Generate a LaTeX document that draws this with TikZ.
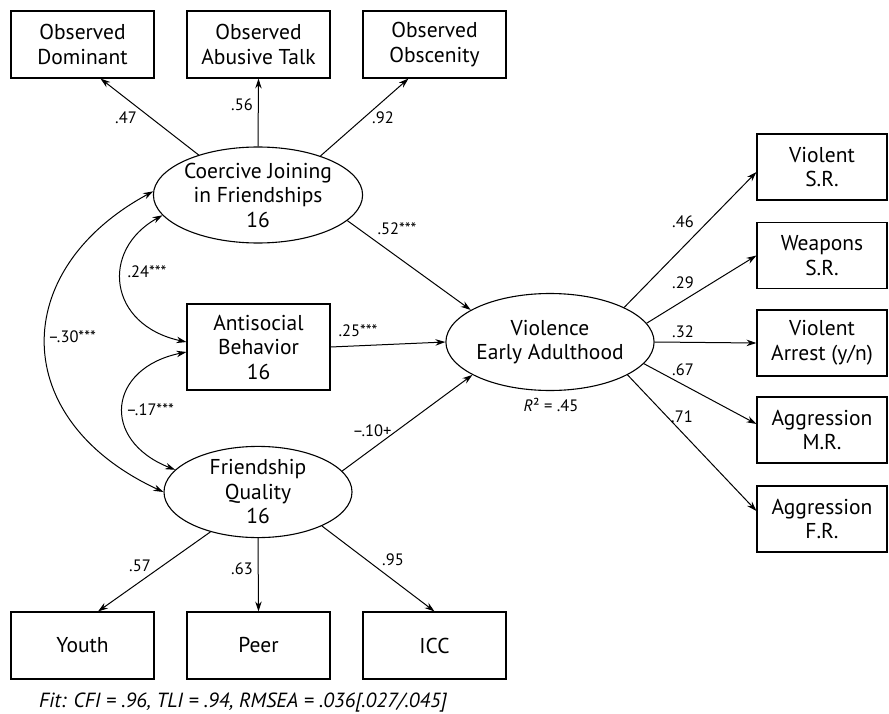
\documentclass[tikz,border=0pt]{standalone}
\usepackage{fontspec}
\setmainfont{PT Sans}
\usetikzlibrary{arrows.meta,calc,shapes.geometric}
\begin{document}
\begin{tikzpicture}[x=1pt,y=-1pt,
  every node/.style={font=\fontsize{21.5}{24.5}\selectfont, align=center, inner sep=0pt},
  obsbox/.style={draw, line width=1.1pt, minimum width=143pt, minimum height=67pt},
  rbox/.style={draw, line width=1.1pt, minimum width=130pt, minimum height=66pt},
  lat/.style={draw, ellipse, line width=1.1pt, minimum width=188pt, minimum height=94pt},
  arr/.style={line width=1pt, -{Stealth[length=10pt,width=6.5pt]}},
  darr/.style={line width=1pt, {Stealth[length=10pt,width=6.5pt]}-{Stealth[length=10pt,width=6.5pt]}},
  lbl/.style={font=\fontsize{16.5}{18}\selectfont}
]
\useasboundingbox (0,0) rectangle (889,714);
% top observed
\node[obsbox] (od) at (82.5,44.5) {Observed\\Dominant};
\node[obsbox] (oa) at (258.5,44.5) {Observed\\Abusive Talk};
\node[obsbox] (oo) at (434.5,44.5) {Observed\\Obscenity};
% latent
\node[lat, minimum height=96pt] (cj) at (258,195) {Coercive Joining\\in Friendships\\16};
\node[draw, line width=1.1pt, minimum width=143pt, minimum height=86pt] (asb) at (258.5,347) {Antisocial\\Behavior\\16};
\node[lat, minimum height=90pt] (fq) at (258,492) {Friendship\\Quality\\16};
\node[lat, minimum width=187pt, minimum height=97pt] (vea) at (550,342) {Violence\\Early Adulthood};
% bottom
\node[obsbox] (yo) at (82.5,645.5) {Youth};
\node[obsbox] (pe) at (258.5,645.5) {Peer};
\node[obsbox] (ic) at (434.5,645.5) {ICC};
% right
\node[rbox] (vsr) at (822,167) {Violent\\S.R.};
\node[rbox] (wsr) at (822,255.5) {Weapons\\S.R.};
\node[rbox] (var) at (822,343) {Violent\\Arrest (y/n)};
\node[rbox] (amr) at (822,430) {Aggression\\M.R.};
\node[rbox] (afr) at (822,519) {Aggression\\F.R.};
% arrows top
\draw[arr] (cj.146) -- ($(od.south)+(18,0)$);
\draw[arr] (cj.north) -- (oa.south);
\draw[arr] (cj.32) -- ($(oo.south)+(-26,0)$);
% structural
\draw[arr] (cj.-16) -- (vea.158);
\draw[arr] (asb.east) -- (vea.west);
\draw[arr] (fq.14) -- (vea.203);
% bottom
\draw[arr] (fq.220) -- ($(yo.north)+(15.5,0)$);
\draw[arr] (fq.south) -- (pe.north);
\draw[arr] (fq.332) -- (ic.north);
% right
\draw[arr] (vea.25) -- ($(vsr.west)+(0,5)$);
\draw[arr] (vea.11) -- (wsr.west);
\draw[arr] (vea.east) -- (var.west);
\draw[arr] (vea.347) -- ($(amr.west)+(0,-6)$);
\draw[arr] (vea.337) -- ($(afr.west)+(0,-8)$);
% correlations
\draw[darr] (cj.192) .. controls (100,250) and (108,325) .. ($(asb.west)+(0,-5)$);
\draw[darr] ($(asb.west)+(0,5)$) .. controls (108,368) and (100,440) .. (fq.165);
\draw[darr] (cj.178) .. controls (8,270) and (8,420) .. (fq.west);
% labels
\node[lbl] (l47) at (126,118) {.47};
\node[lbl] (l56) at (242,105) {.56};
\node[lbl] (l92) at (383,118) {.92};
\node[lbl] (l52) at (397,229) {.52***};
\node[lbl] (l25) at (358,331) {.25***};
\node[lbl] (l10) at (372,431) {–.10+};
\node[lbl] (l57) at (140,566) {.57};
\node[lbl] (l63) at (242,569) {.63};
\node[lbl] (l95) at (393,560) {.95};
\node[lbl] (l24) at (147,272) {.24***};
\node[lbl] (l17) at (150,410) {–.17***};
\node[lbl] (l30) at (72,337) {–.30***};
\node[lbl] (l46) at (683,222) {.46};
\node[lbl] (l29) at (683,283) {.29};
\node[lbl] (l32) at (683,332) {.32};
\node[lbl] (l67) at (683,370) {.67};
\node[lbl] (l71) at (682,417) {.71};
\node[lbl] (lr2) at (551,405) {\textit{R}² = .45};
\node[font=\fontsize{20.5}{22}\selectfont\itshape] (fit) at (243,703) {Fit: CFI = .96, TLI = .94, RMSEA = .036[.027/.045]};
\end{tikzpicture}
\end{document}
